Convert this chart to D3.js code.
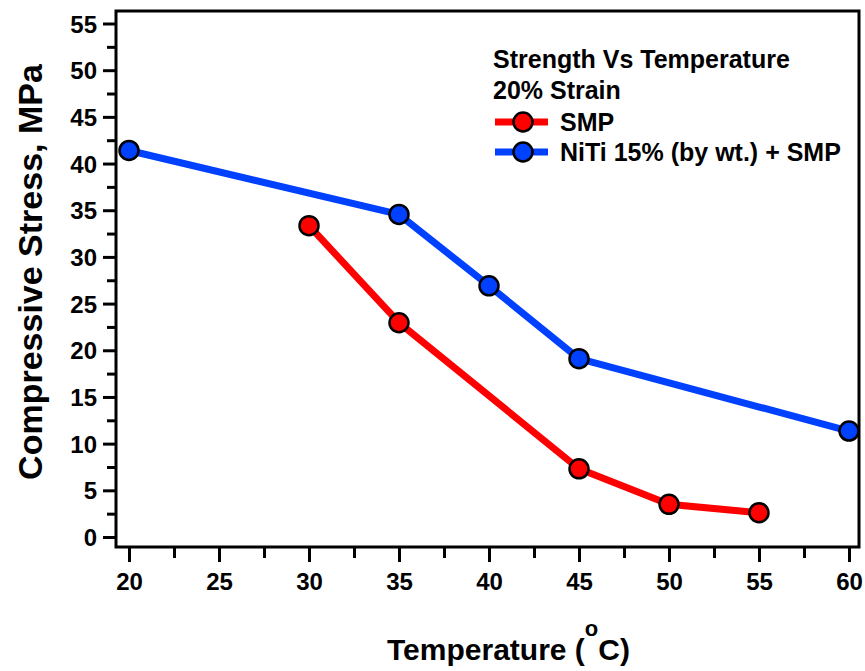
<!DOCTYPE html>
<html>
<head>
<meta charset="utf-8">
<script src="https://cdn.jsdelivr.net/npm/d3@7"></script>
<style>
  html, body { margin: 0; padding: 0; background: #fff; }
  svg { display: block; font-family: "Liberation Sans", Arial, sans-serif; font-weight: bold; }
</style>
</head>
<body>
<svg id="chart" width="865" height="671"></svg>
<script>
// Compressive strength at 20% strain versus temperature
const smpTemps = [30, 35, 45, 50, 55];
const smpStress = [33.35, 22.95, 7.3, 3.5, 2.6];
const nitiTemps = [20, 35, 40, 45, 60];
const nitiStress = [41.4, 34.55, 26.9, 19.1, 11.35];

const xTicks = [20, 25, 30, 35, 40, 45, 50, 55, 60];
const xMinorTicks = [22.5, 27.5, 32.5, 37.5, 42.5, 47.5, 52.5, 57.5];
const yTicks = [0, 5, 10, 15, 20, 25, 30, 35, 40, 45, 50, 55];
const yMinorTicks = [2.5, 7.5, 12.5, 17.5, 22.5, 27.5, 32.5, 37.5, 42.5, 47.5, 52.5];

const seriesNames = ["SMP", "NiTi 15% (by wt.) + SMP"];
const legendTitle = ["Strength Vs Temperature", "20% Strain"];
const xTitle = "Temperature (";
const yTitle = "Compressive Stress, MPa";

const RED = "#ff0000";
const BLUE = "#0040ff";

const svg = d3.select("#chart");

const x = d3.scaleLinear().domain([20, 60]).range([129, 849]);
const y = d3.scaleLinear().domain([0, 55]).range([537, 23.5]);

// plot frame
const frame = { left: 116, right: 859, top: 11, bottom: 547 };
svg.append("rect")
  .attr("x", frame.left).attr("y", frame.top)
  .attr("width", frame.right - frame.left).attr("height", frame.bottom - frame.top)
  .attr("fill", "none").attr("stroke", "#000").attr("stroke-width", 3);

// x axis
const xAxis = svg.append("g").attr("transform", `translate(0,${frame.bottom})`);
xAxis.call(d3.axisBottom(x).tickValues(xTicks).tickSize(15).tickPadding(11).tickFormat(d3.format("d")));
const xMinor = svg.append("g").attr("transform", `translate(0,${frame.bottom})`);
xMinor.call(d3.axisBottom(x).tickValues(xMinorTicks).tickSize(11).tickFormat(""));

// y axis
const yAxis = svg.append("g").attr("transform", `translate(${frame.left},0)`);
yAxis.call(d3.axisLeft(y).tickValues(yTicks).tickSize(13).tickPadding(6).tickFormat(d3.format("d")));
const yMinor = svg.append("g").attr("transform", `translate(${frame.left},0)`);
yMinor.call(d3.axisLeft(y).tickValues(yMinorTicks).tickSize(9).tickFormat(""));

svg.selectAll(".domain").remove();
svg.selectAll(".tick line").attr("stroke", "#000").attr("stroke-width", 3);
svg.selectAll(".tick text")
  .attr("fill", "#000")
  .style("font-size", "24px")
  .style("font-weight", "bold")
  .style("font-family", "'Liberation Sans', Arial, sans-serif");
yAxis.selectAll(".tick text").attr("dy", "0.36em");

// series
const line = d3.line().x(d => x(d[0])).y(d => y(d[1]));
const series = [
  { name: seriesNames[0], color: RED, pts: d3.zip(smpTemps, smpStress) },
  { name: seriesNames[1], color: BLUE, pts: d3.zip(nitiTemps, nitiStress) }
];

series.forEach(s => {
  svg.append("path")
    .datum(s.pts)
    .attr("d", line)
    .attr("fill", "none")
    .attr("stroke", s.color)
    .attr("stroke-width", 7)
    .attr("stroke-linejoin", "round");
  svg.append("g").selectAll("circle")
    .data(s.pts)
    .join("circle")
    .attr("cx", d => x(d[0]))
    .attr("cy", d => y(d[1]))
    .attr("r", 9.5)
    .attr("fill", s.color)
    .attr("stroke", "#000")
    .attr("stroke-width", 2.5);
});

// legend
const lg = svg.append("g").attr("transform", "translate(493,0)");
legendTitle.forEach((t, i) => {
  lg.append("text").attr("x", 0).attr("y", 68 + i * 30.5)
    .style("font-size", "25px").text(t);
});
series.forEach((s, i) => {
  const cy = 122 + i * 30;
  lg.append("line").attr("x1", 2).attr("x2", 55).attr("y1", cy).attr("y2", cy)
    .attr("stroke", s.color).attr("stroke-width", 7);
  lg.append("circle").attr("cx", 30).attr("cy", cy).attr("r", 9.5)
    .attr("fill", s.color).attr("stroke", "#000").attr("stroke-width", 2.5);
  lg.append("text").attr("x", 67).attr("y", cy + 9)
    .style("font-size", "25px").text(s.name);
});

// axis titles
const xt = svg.append("text")
  .attr("x", 387)
  .attr("y", 660)
  .style("font-size", "30px");
xt.append("tspan").text(xTitle);
xt.append("tspan").attr("dy", -24).style("font-size", "22px").text("o");
xt.append("tspan").attr("dy", 24).text("C)");

svg.append("text")
  .attr("transform", `translate(42,272) rotate(-90)`)
  .attr("text-anchor", "middle")
  .style("font-size", "34px")
  .text(yTitle);
</script>
</body>
</html>
